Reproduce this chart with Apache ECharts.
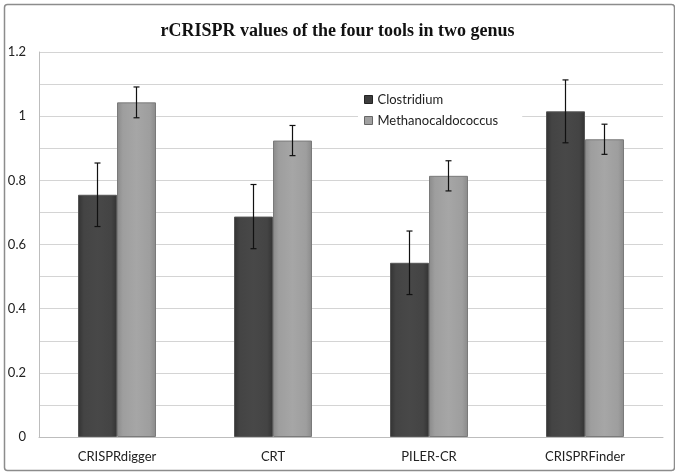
<!DOCTYPE html>
<html><head><meta charset="utf-8">
<script src="https://cdn.jsdelivr.net/npm/echarts@6/dist/echarts.min.js"></script>
<style>html,body{margin:0;padding:0;background:#fff}#c{width:675px;height:472px}</style>
</head><body><div id="c"></div>
<script>
const categories = ['CRISPRdigger', 'CRT', 'PILER-CR', 'CRISPRFinder'];
const clostridium = [0.755, 0.687, 0.543, 1.015];
const clostridiumErr = [0.099, 0.1, 0.099, 0.098];
const methano = [1.043, 0.924, 0.814, 0.928];
const methanoErr = [0.048, 0.047, 0.047, 0.047];
const yTicks = [0, 0.2, 0.4, 0.6, 0.8, 1, 1.2];

const chart = echarts.init(document.getElementById('c'), null, {renderer: 'canvas'});
const font = 'Lato';

function errSeries(name, vals, errs, side) {
  return {
    type: 'custom',
    name: name + ' err',
    z: 10,
    silent: true,
    data: vals.map((v, i) => [i, v - errs[i], v + errs[i]]),
    renderItem: function (params, api) {
      const i = api.value(0);
      const lo = api.coord([i, api.value(1)]);
      const hi = api.coord([i, api.value(2)]);
      const band = api.size([1, 0])[0];
      const x = lo[0] + side * band * 0.125;
      const cap = 3;
      const st = {stroke: '#111', lineWidth: 1.2};
      return {type: 'group', children: [
        {type: 'line', shape: {x1: x, y1: lo[1], x2: x, y2: hi[1]}, style: st},
        {type: 'line', shape: {x1: x - cap, y1: lo[1], x2: x + cap, y2: lo[1]}, style: st},
        {type: 'line', shape: {x1: x - cap, y1: hi[1], x2: x + cap, y2: hi[1]}, style: st}
      ]};
    }
  };
}

const darkGrad = new echarts.graphic.LinearGradient(0, 0, 1, 0, [
  {offset: 0, color: '#333'}, {offset: 0.15, color: '#444'}, {offset: 0.5, color: '#484848'}, {offset: 0.85, color: '#444'}, {offset: 1, color: '#333'}]);
const lightGrad = new echarts.graphic.LinearGradient(0, 0, 1, 0, [
  {offset: 0, color: '#8a8a8a'}, {offset: 0.15, color: '#9e9e9e'}, {offset: 0.5, color: '#a6a6a6'}, {offset: 0.85, color: '#9e9e9e'}, {offset: 1, color: '#8a8a8a'}]);

chart.setOption({
  animation: false,
  backgroundColor: '#fff',
  title: {
    text: 'rCRISPR values of the four tools in two genus',
    left: 'center', top: 17,
    textStyle: {fontFamily: 'Liberation Serif', fontWeight: 'bold', fontSize: 18, color: '#111'}
  },
  graphic: [{
    type: 'rect', left: 2, top: 2, z: -1,
    shape: {width: 670, height: 466, r: 3},
    style: {fill: 'none', stroke: '#8c8c8c', lineWidth: 1.5}
  }],
  legend: {
    orient: 'vertical', left: 358, top: 91,
    icon: 'rect',
    itemWidth: 8, itemHeight: 8, itemGap: 8,
    backgroundColor: '#fff', padding: [2, 24, 6, 6],
    data: [
      {name: 'Clostridium', itemStyle: {color: '#3d3d3d', borderColor: '#222', borderWidth: 1}},
      {name: 'Methanocaldococcus', itemStyle: {color: '#a0a0a0', borderColor: '#666', borderWidth: 1}}
    ],
    textStyle: {fontFamily: font, fontSize: 13, color: '#222'}
  },
  grid: {left: 39, right: 12, top: 52, bottom: 35, containLabel: false},
  xAxis: {
    type: 'category', data: categories,
    axisLine: {lineStyle: {color: '#bdbdbd'}},
    axisTick: {show: false},
    axisLabel: {fontFamily: font, fontSize: 13, color: '#222', margin: 13}
  },
  yAxis: {
    type: 'value', min: 0, max: 1.2, interval: 0.2,
    axisLine: {show: true, lineStyle: {color: '#bdbdbd'}},
    axisTick: {show: false},
    axisLabel: {fontFamily: font, fontSize: 13, color: '#222', margin: 13,
      formatter: v => { const t = yTicks.find(k => Math.abs(k - v) < 1e-9); return t === undefined ? '' : String(t); }},
    splitLine: {lineStyle: {color: '#d4d4d4', width: 1}},
    minorTick: {show: false, splitNumber: 2},
    minorSplitLine: {show: true, lineStyle: {color: '#d4d4d4', width: 1}}
  },
  series: [
    {name: 'Clostridium', type: 'bar', data: clostridium, barWidth: '25%', barGap: '0%',
      itemStyle: {color: darkGrad, borderColor: '#555', borderWidth: 1}},
    {name: 'Methanocaldococcus', type: 'bar', data: methano, barWidth: '25%', barGap: '0%',
      itemStyle: {color: lightGrad, borderColor: '#7a7a7a', borderWidth: 1}},
    errSeries('Clostridium', clostridium, clostridiumErr, -1),
    errSeries('Methanocaldococcus', methano, methanoErr, 1)
  ]
});
</script></body></html>
